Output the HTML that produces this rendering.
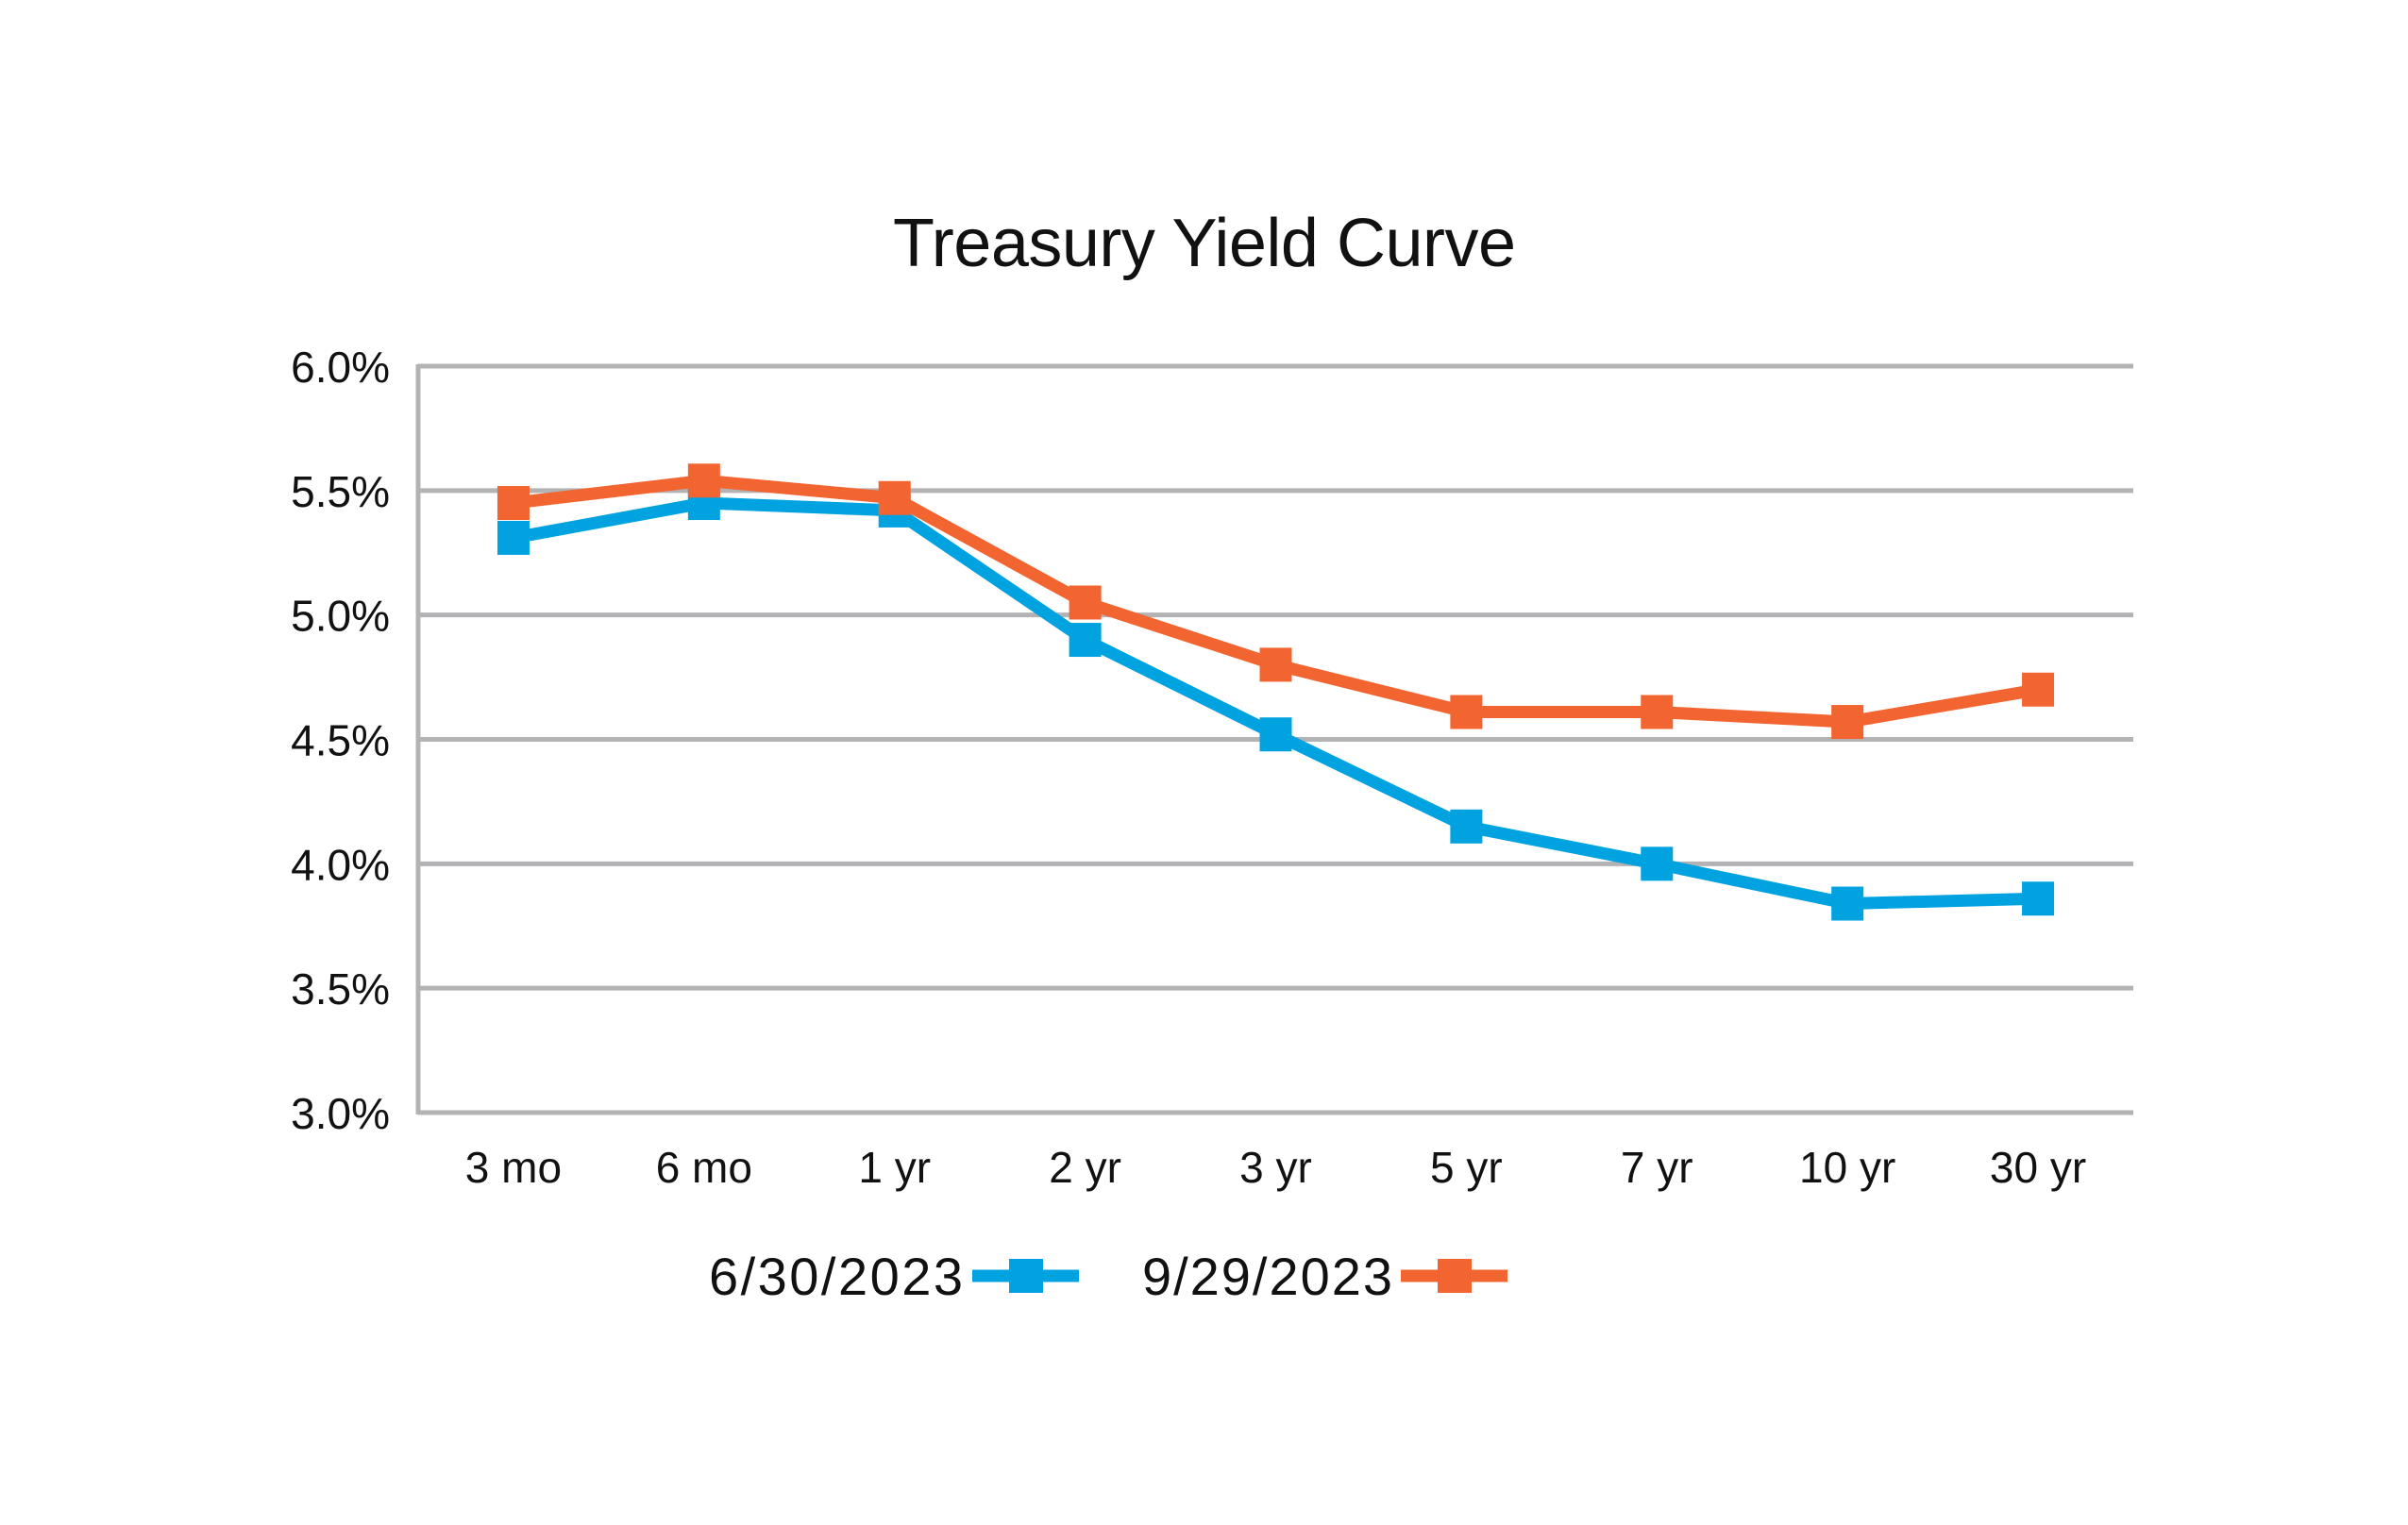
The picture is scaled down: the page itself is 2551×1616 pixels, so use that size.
<!DOCTYPE html>
<html><head><meta charset="utf-8"><style>
html,body{margin:0;padding:0;background:#fff;}
svg{display:block;}
text{font-family:"Liberation Sans",sans-serif;fill:#111;}
</style></head><body>
<svg id="chart" width="2551" height="1616" viewBox="0 0 2551 1616" xmlns="http://www.w3.org/2000/svg">
<rect width="2551" height="1616" fill="#fff"/>
<text x="1276" y="282" text-anchor="middle" font-size="72" textLength="660">Treasury Yield Curve</text>
<g id="grid"></g>
<g id="yticks"></g>
<g id="xticks"></g>
<g id="series"></g>
<g id="legend">
<text x="751" y="1372" font-size="56" textLength="269">6/30/2023</text>
<line x1="1030" y1="1352" x2="1143" y2="1352" stroke="#00a3e0" stroke-width="13"/>
<rect x="1069" y="1334" width="36" height="36" fill="#00a3e0"/>
<text x="1210" y="1372" font-size="56" textLength="265">9/29/2023</text>
<line x1="1484" y1="1352" x2="1597" y2="1352" stroke="#f26531" stroke-width="13"/>
<rect x="1523" y="1334" width="36" height="36" fill="#f26531"/>
</g>
</svg>
<script>
const categories = ["3 mo","6 mo","1 yr","2 yr","3 yr","5 yr","7 yr","10 yr","30 yr"];
const june = [5.31,5.45,5.42,4.90,4.52,4.15,4.00,3.84,3.86];
const september = [5.45,5.54,5.47,5.05,4.80,4.61,4.61,4.57,4.70];
const yTicks = [3.0,3.5,4.0,4.5,5.0,5.5,6.0];
const yTickLabels = ["3.0%","3.5%","4.0%","4.5%","5.0%","5.5%","6.0%"];

const NS = "http://www.w3.org/2000/svg";
const plotLeft = 443, plotRight = 2260, plotTop = 388, plotBottom = 1179;
const yMin = 3.0, yMax = 6.0;
const step = (plotRight - plotLeft) / categories.length;
function xPos(i){ return plotLeft + step * (i + 0.5); }
function yPos(v){ return plotBottom - (v - yMin) / (yMax - yMin) * (plotBottom - plotTop); }
function mk(tag, attrs, parent){ const e = document.createElementNS(NS, tag); for (const k in attrs) e.setAttribute(k, attrs[k]); parent.appendChild(e); return e; }

const grid = document.getElementById('grid');
yTicks.forEach((t, i) => {
  const l = mk('line', {x1:plotLeft, x2:plotRight, y1:yPos(t), y2:yPos(t), stroke:'#b3b3b6', 'stroke-width':5}, grid);
  
  
});
const axis = mk('line', {x1:plotLeft, x2:plotLeft, y1:plotTop-2, y2:plotBottom+2, stroke:'#b3b3b6', 'stroke-width':5}, grid);



const yt = document.getElementById('yticks');
yTicks.forEach((t, i) => {
  const tx = mk('text', {x:413, y:yPos(t)+17, 'text-anchor':'end', 'font-size':46}, yt);
  tx.textContent = yTickLabels[i];
  
  
});
const xt = document.getElementById('xticks');
categories.forEach((c, i) => {
  const tx = mk('text', {x:xPos(i), y:1253, 'text-anchor':'middle', 'font-size':46}, xt);
  tx.textContent = c;
  
  
});

const sg = document.getElementById('series');
function drawSeries(vals, color, name){
  const g = mk('g', {}, sg);
  
  
  const pts = vals.map((v, i) => xPos(i) + ',' + yPos(v)).join(' ');
  const pl = mk('polyline', {points:pts, fill:'none', stroke:color, 'stroke-width':13, 'stroke-linejoin':'miter'}, g);
  
  
  vals.forEach((v, i) => {
    const r = mk('rect', {x:xPos(i)-17, y:yPos(v)-18, width:34, height:36, fill:color}, g);
    
    
  });
}
drawSeries(june, '#00a3e0', 'june-2023');
drawSeries(september, '#f26531', 'september-2023');
</script>
</body></html>
